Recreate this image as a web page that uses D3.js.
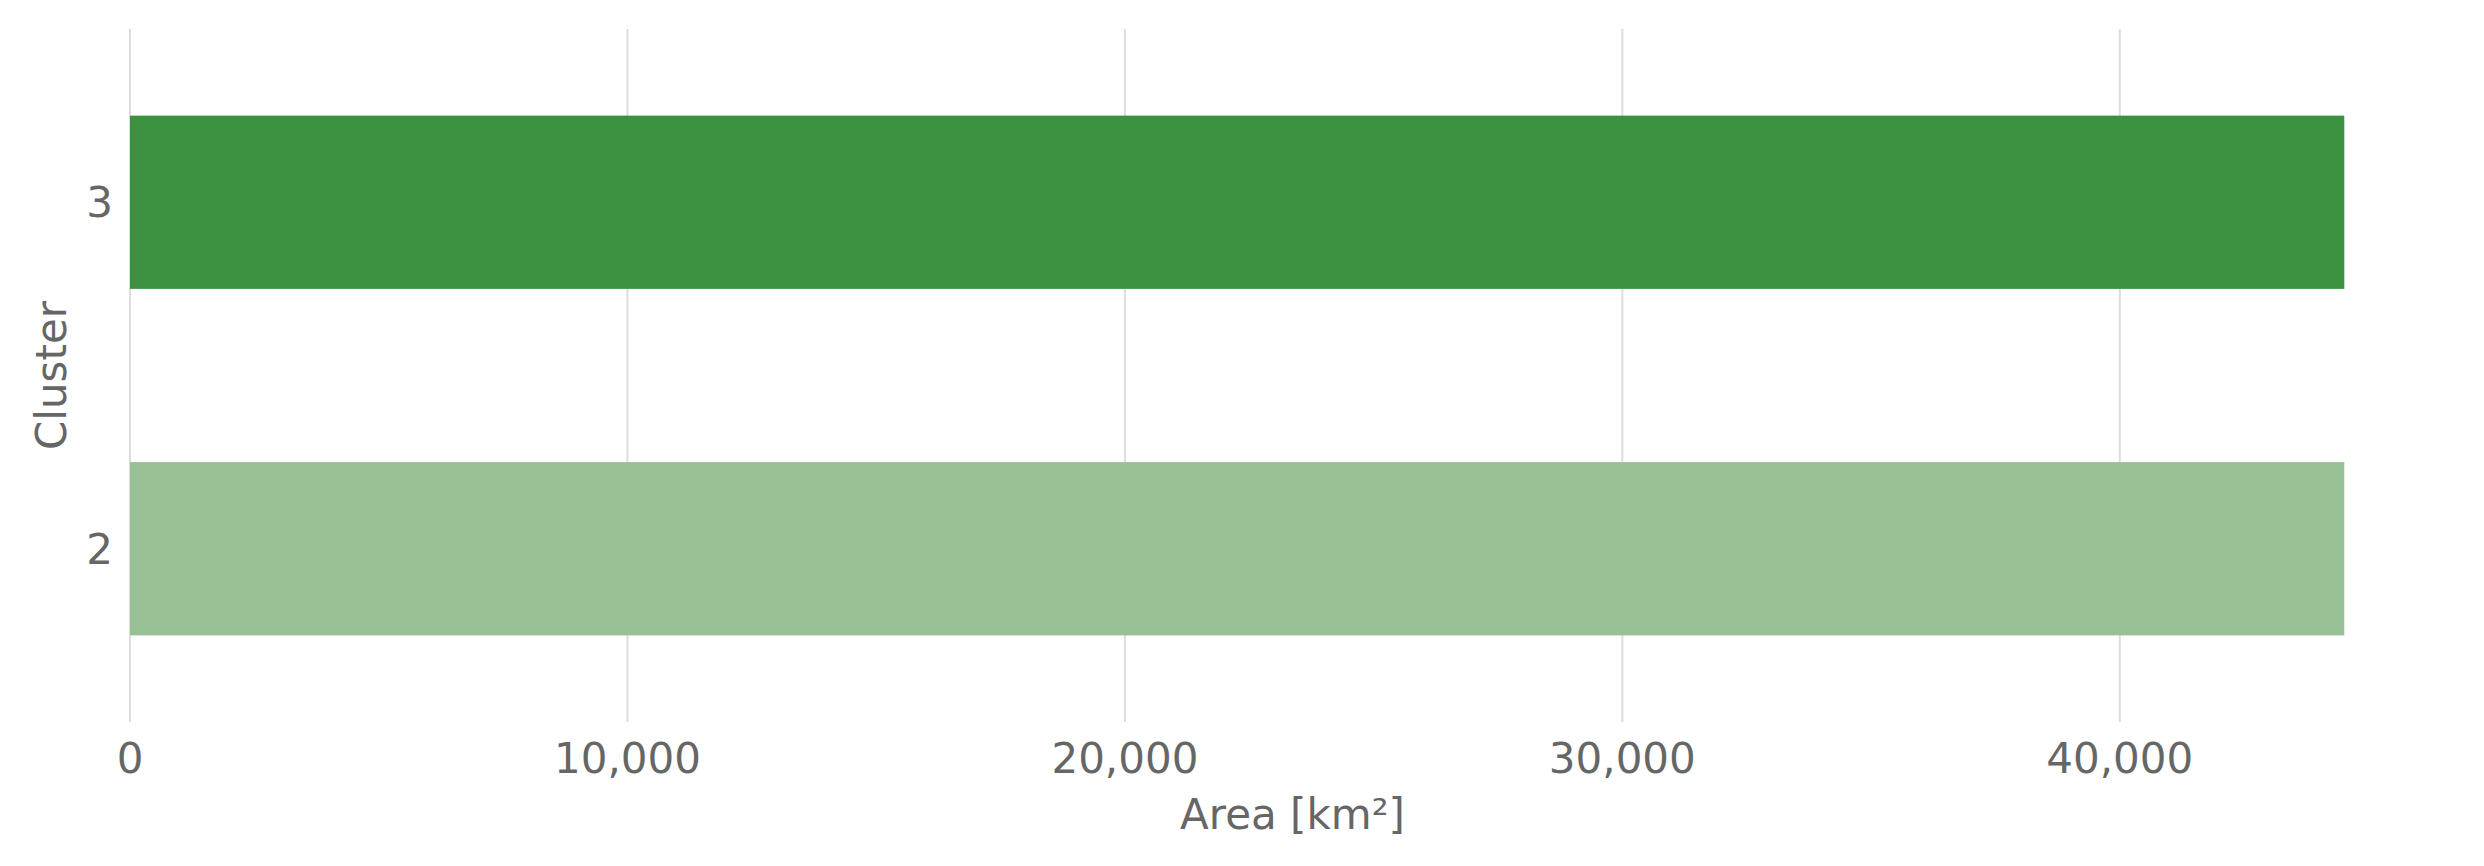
<!DOCTYPE html>
<html><head><meta charset="utf-8">
<script src="https://cdn.jsdelivr.net/npm/d3@7"></script>
<style>body{margin:0;background:#fff}</style>
</head><body>
<script>
const categories = ["3", "2"];
const values = [44513, 44513];
const colors = ["#3b9140", "#97c194"];
const xTicks = [0, 10000, 20000, 30000, 40000];
const xTitle = "Area [km²]";
const yTitle = "Cluster";

const W = 2484, H = 866;
const FS = 42;
const svg = d3.select("body").append("svg").attr("width", W).attr("height", H)
  .style("font-family", "DejaVu Sans");

const x = d3.scaleLinear().domain([0, 44513 * 1.05]).range([130, 2455]);
const y = d3.scaleBand().domain(categories).range([29, 722]).paddingInner(0.5).paddingOuter(0.25);

// gridlines
svg.append("g").selectAll("line").data(xTicks).join("line")
  .attr("x1", d => x(d)).attr("x2", d => x(d))
  .attr("y1", 29).attr("y2", 722)
  .attr("stroke", "#dddddd").attr("stroke-width", 2);

// bars
svg.append("g").selectAll("rect").data(categories).join("rect")
  .attr("x", x(0)).attr("y", d => y(d))
  .attr("width", (d, i) => x(values[i]) - x(0))
  .attr("height", y.bandwidth())
  .attr("fill", (d, i) => colors[i]);

const fmt = d3.format(",");
// x tick labels
svg.append("g").selectAll("text").data(xTicks).join("text")
  .attr("x", d => x(d)).attr("y", 758).attr("dy", "0.36em")
  .attr("text-anchor", "middle").attr("fill", "#666666").attr("font-size", FS)
  .text(d => fmt(d));

// y tick labels
svg.append("g").selectAll("text").data(categories).join("text")
  .attr("x", 113).attr("y", d => y(d) + y.bandwidth() / 2).attr("dy", "0.36em")
  .attr("text-anchor", "end").attr("fill", "#666666").attr("font-size", FS)
  .text(d => d);

svg.append("text").attr("x", (130 + 2455) / 2).attr("y", 814).attr("dy", "0.36em")
  .attr("text-anchor", "middle").attr("fill", "#666666").attr("font-size", FS)
  .text(xTitle);

svg.append("text").attr("transform", `translate(51,${(29 + 722) / 2}) rotate(-90)`)
  .attr("dy", "0.36em").attr("text-anchor", "middle").attr("fill", "#666666").attr("font-size", FS)
  .text(yTitle);
</script>
</body></html>
